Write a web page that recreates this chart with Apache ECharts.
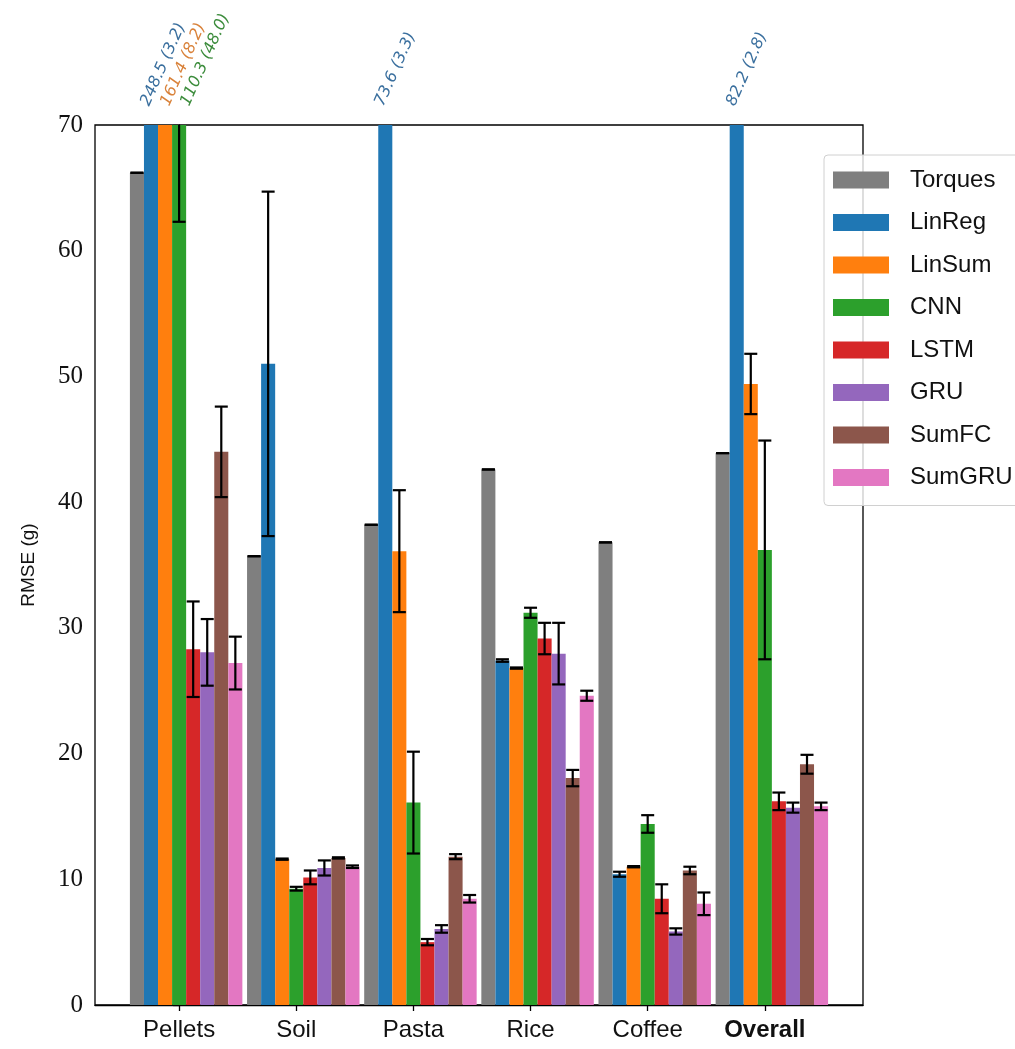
<!DOCTYPE html>
<html><head><meta charset="utf-8">
<script src="https://cdn.jsdelivr.net/npm/echarts@6/dist/echarts.min.js"></script>
<style>html,body{margin:0;padding:0;background:#fff}#c{width:1015px;height:1049px}</style>
</head><body><div id="c"></div>
<script>
// ---- data ----
const categories = ['Pellets', 'Soil', 'Pasta', 'Rice', 'Coffee', 'Overall'];
const methods = ['Torques', 'LinReg', 'LinSum', 'CNN', 'LSTM', 'GRU', 'SumFC', 'SumGRU'];
const torques    = [66.2, 35.7, 38.2, 42.6, 36.8, 43.9];
const torquesStd = [0, 0, 0, 0, 0, 0];
const linReg     = [248.5, 51.0, 73.6, 27.4, 10.4, 82.2];
const linRegStd  = [3.2, 13.7, 3.3, 0.1, 0.2, 2.8];
const linSum     = [161.4, 11.6, 36.1, 26.8, 11.0, 49.4];
const linSumStd  = [8.2, 0.05, 4.85, 0.05, 0.05, 2.4];
const cnn        = [110.3, 9.25, 16.1, 31.2, 14.4, 36.2];
const cnnStd     = [48.0, 0.15, 4.05, 0.4, 0.7, 8.7];
const lstm       = [28.3, 10.15, 5.0, 29.15, 8.45, 16.2];
const lstmStd    = [3.8, 0.55, 0.25, 1.25, 1.15, 0.7];
const gru        = [28.05, 10.9, 6.05, 27.95, 5.85, 15.7];
const gruStd     = [2.65, 0.6, 0.3, 2.45, 0.25, 0.4];
const sumFC      = [44.0, 11.7, 11.8, 18.05, 10.7, 19.15];
const sumFCStd   = [3.6, 0.05, 0.2, 0.65, 0.3, 0.75];
const sumGRU     = [27.2, 11.0, 8.45, 24.6, 8.05, 15.8];
const sumGRUStd  = [2.1, 0.1, 0.3, 0.4, 0.9, 0.3];
const yTicks = [0, 10, 20, 30, 40, 50, 60, 70];

// ---- styling / layout ----
const colors = ['#7f7f7f', '#1f77b4', '#ff7f0e', '#2ca02c', '#d62728', '#9467bd', '#8c564b', '#e377c2'];
const textColors = ['#7f7f7f', '#3a6f9e', '#d9823a', '#3c8c3c', '#d62728', '#9467bd', '#8c564b', '#e377c2'];
const values = [torques, linReg, linSum, cnn, lstm, gru, sumFC, sumGRU];
const stds = [torquesStd, linRegStd, linSumStd, cnnStd, lstmStd, gruStd, sumFCStd, sumGRUStd];
const BAR_W = 0.12;       // bar width in x units
const ANNOT_STEP = 0.17;  // spacing of the clipped-value annotations in x units
const REF_BAR = 3;        // tick sits on this bar index
const X_MIN = -0.718, X_MAX = 5.838;
const Y_MIN = yTicks[0], Y_MAX = yTicks[yTicks.length - 1];
const SANS = 'Liberation Sans';
const SERIF = 'Liberation Serif';
const ROT = 66 * Math.PI / 180;

const series = [];
methods.forEach((m, j) => {
  const groupCenterOffset = BAR_W * (methods.length / 2 - REF_BAR - 0.5);
  series.push({
    name: m, type: 'bar',
    barGap: '0%', barCategoryGap: '4%',
    itemStyle: { color: colors[j] },
    data: values[j].map((v, i) => [i + groupCenterOffset, v]),
    z: 2
  });
});
methods.forEach((m, j) => {
  series.push({
    type: 'custom', clip: true, z: 5, silent: true,
    encode: { x: 0, y: 1 },
    data: values[j].map((v, i) => [i + (j - REF_BAR) * BAR_W, v, stds[j][i]]),
    renderItem: function (params, api) {
      const x = api.value(0), v = api.value(1), s = api.value(2);
      const top = api.coord([x, v + s]), bot = api.coord([x, v - s]);
      const hw = 6.5;
      const st = { stroke: '#000', lineWidth: 2.2 };
      return { type: 'group', children: [
        { type: 'line', shape: { x1: top[0], y1: top[1], x2: bot[0], y2: bot[1] }, style: st },
        { type: 'line', shape: { x1: top[0] - hw, y1: top[1], x2: top[0] + hw, y2: top[1] }, style: st },
        { type: 'line', shape: { x1: bot[0] - hw, y1: bot[1], x2: bot[0] + hw, y2: bot[1] }, style: st }
      ]};
    }
  });
  const over = [];
  values[j].forEach((v, i) => { if (v > Y_MAX) over.push([i + (j - REF_BAR) * ANNOT_STEP, Y_MAX, v, stds[j][i]]); });
  if (over.length) {
    series.push({
      type: 'custom', clip: false, z: 6, silent: true,
      encode: { x: 0, y: 1 },
      data: over,
      renderItem: function (params, api) {
        const p = api.coord([api.value(0), api.value(1)]);
        const txt = api.value(2).toFixed(1) + ' (' + api.value(3).toFixed(1) + ')';
        return {
          type: 'text', x: p[0] + 6, y: p[1] - 20, rotation: ROT,
          style: { text: txt, fill: textColors[j], font: 'oblique 16px "DejaVu Sans"', align: 'left', verticalAlign: 'middle' }
        };
      }
    });
  }
});

const chart = echarts.init(document.getElementById('c'), null, { renderer: 'canvas' });
chart.setOption({
  animation: false,
  backgroundColor: '#fff',
  grid: { left: 95, right: 152, top: 125, bottom: 44, show: true, borderColor: '#000', borderWidth: 1.3, backgroundColor: 'transparent' },
  legend: {
    data: methods, orient: 'vertical', left: 824, top: 155,
    itemWidth: 56, itemHeight: 17, itemGap: 18.5,
    padding: [13, 9, 16, 9],
    icon: 'rect',
    backgroundColor: 'rgba(255,255,255,0.8)', borderColor: '#d0d0d0', borderWidth: 1, borderRadius: 4,
    textStyle: { fontFamily: SANS, fontSize: 24, color: '#111', padding: [0, 0, 0, 16] },
    z: 10
  },
  xAxis: {
    type: 'value', min: X_MIN, max: X_MAX,
    splitLine: { show: false },
    axisLine: { show: true, onZero: false, lineStyle: { color: '#000', width: 1.3 } },
    axisTick: { show: true, customValues: categories.map((c, i) => i), length: 6, lineStyle: { color: '#000', width: 1.3 } },
    axisLabel: {
      customValues: categories.map((c, i) => i), margin: 13,
      fontFamily: SANS, fontSize: 24, color: '#111',
      formatter: function (v) { const c = categories[Math.round(v)]; return c === 'Overall' ? '{b|' + c + '}' : c; },
      rich: { b: { fontFamily: SANS, fontSize: 24, fontWeight: 'bold', color: '#111' } }
    }
  },
  yAxis: {
    type: 'value', min: Y_MIN, max: Y_MAX, interval: 10,
    splitLine: { show: false },
    axisLine: { show: true, lineStyle: { color: '#000', width: 1.3 } },
    axisTick: { show: true, length: 6, lineStyle: { color: '#000', width: 1.3 } },
    axisLabel: { margin: 12, fontFamily: SERIF, fontSize: 25, color: '#111' },
    name: 'RMSE (g)', nameLocation: 'middle', nameGap: 57,
    nameTextStyle: { fontFamily: SANS, fontSize: 19, color: '#111' }
  },
  series: series
});
</script>
</body></html>
